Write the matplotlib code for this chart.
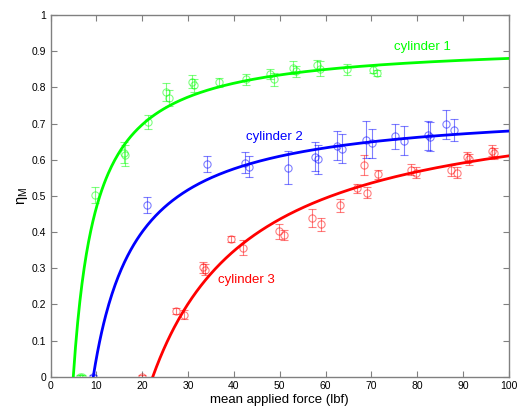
#!/usr/bin/env python3
"""Mechanical efficiency vs mean applied force for three cylinders, with hyperbolic fits."""
import matplotlib
matplotlib.use("Agg")
import matplotlib.pyplot as plt
import numpy as np

cyl1_force = [6.3, 6.9, 9.7, 16.0, 16.3, 21.2, 25.2, 25.9, 30.8, 31.2, 36.8, 42.6, 47.8, 48.8,
              52.8, 53.5, 58.1, 58.9, 64.8, 70.3, 71.3]
cyl1_eta = [0.0, 0.0, 0.503, 0.620, 0.612, 0.705, 0.788, 0.772, 0.816, 0.806, 0.814, 0.823,
            0.837, 0.822, 0.854, 0.845, 0.862, 0.852, 0.850, 0.849, 0.841]
cyl1_err = [0.004, 0.004, 0.022, 0.030, 0.030, 0.020, 0.025, 0.022, 0.018, 0.018, 0.012, 0.015,
            0.013, 0.018, 0.018, 0.015, 0.015, 0.020, 0.015, 0.010, 0.008]

cyl2_force = [9.3, 21.1, 34.1, 42.4, 43.3, 51.9, 57.7, 58.4, 62.6, 63.7, 68.8, 70.2, 75.2, 77.1,
              82.4, 82.8, 86.2, 88.1]
cyl2_eta = [0.0, 0.475, 0.588, 0.592, 0.581, 0.578, 0.608, 0.601, 0.639, 0.631, 0.656, 0.645,
            0.665, 0.652, 0.668, 0.664, 0.698, 0.682]
cyl2_err = [0.004, 0.022, 0.022, 0.030, 0.030, 0.045, 0.040, 0.040, 0.040, 0.040, 0.050, 0.040,
            0.035, 0.040, 0.040, 0.040, 0.040, 0.030]

cyl3_force = [19.9, 27.3, 29.1, 33.3, 33.6, 39.3, 42.0, 49.9, 51.0, 57.0, 59.0, 63.2, 66.9, 68.5,
              69.1, 71.4, 78.6, 79.7, 87.5, 88.8, 90.8, 91.4, 96.3, 96.8]
cyl3_eta = [0.0, 0.182, 0.172, 0.302, 0.296, 0.380, 0.357, 0.402, 0.392, 0.438, 0.422, 0.474,
            0.521, 0.585, 0.509, 0.560, 0.573, 0.564, 0.571, 0.564, 0.607, 0.601, 0.625, 0.618]
cyl3_err = [0.004, 0.008, 0.012, 0.015, 0.015, 0.008, 0.020, 0.020, 0.013, 0.025, 0.018, 0.018,
            0.012, 0.028, 0.015, 0.012, 0.015, 0.015, 0.015, 0.015, 0.015, 0.015, 0.015, 0.015]

# fit parameters: eta = eta_max * (1 - F0 / F)
fit_eta_max = [0.926, 0.749, 0.786]
fit_f0 = [4.94, 9.3, 22.3]

labels = ["cylinder 1", "cylinder 2", "cylinder 3"]
colors = ["#00ff00", "#0000ff", "#ff0000"]
label_pos = [(75.0, 0.911), (42.6, 0.662), (36.5, 0.267)]


def main():
    plt.rcParams.update({
        "font.family": ["Liberation Sans", "DejaVu Sans"],
        "font.size": 7.5,
    })
    fig = plt.figure(figsize=(5.17, 4.09), dpi=100)
    ax = fig.add_axes([0.098, 0.079, 0.886, 0.884])

    series = [(cyl1_force, cyl1_eta, cyl1_err),
              (cyl2_force, cyl2_eta, cyl2_err),
              (cyl3_force, cyl3_eta, cyl3_err)]
    for (f, eta, err), c, lab, pos, emax, f0 in zip(series, colors, labels, label_pos,
                                                  fit_eta_max, fit_f0):
        ax.errorbar(f, eta, yerr=err, fmt="o", mfc="none", mec=c, ecolor=c, ms=5.2, mew=0.8,
                    elinewidth=0.8, capsize=3, capthick=0.8, alpha=0.5, zorder=2)
        ff = np.linspace(f0, 100, 400)
        ax.plot(ff, emax * (1 - f0 / ff), color=c, lw=2.0, zorder=3)
        ax.text(pos[0], pos[1], lab, color=c, fontsize=9.5, va="center", ha="left")

    ax.set_xlim(0, 100)
    ax.set_ylim(0, 1)
    ax.set_xticks(np.arange(0, 101, 10))
    ax.set_yticks(np.arange(0, 1.01, 0.1))
    ax.set_yticklabels(["0"] + [f"{v:.1f}" for v in np.arange(0.1, 0.95, 0.1)] + ["1"])
    ax.set_xlabel("mean applied force (lbf)", fontsize=9.5, labelpad=2)
    ax.set_ylabel(r"$\mathregular{\eta_M}$", fontsize=10.5)
    ax.yaxis.set_label_coords(-0.045, 0.5)
    for sp in ax.spines.values():
        sp.set_color("#808080")
        sp.set_linewidth(1.0)
    ax.tick_params(direction="in", top=True, right=True, length=4, width=0.8,
                   color="#808080", labelcolor="black", pad=3)

    fig.savefig("out.png", dpi=100)
    plt.close(fig)


if __name__ == "__main__":
    main()
